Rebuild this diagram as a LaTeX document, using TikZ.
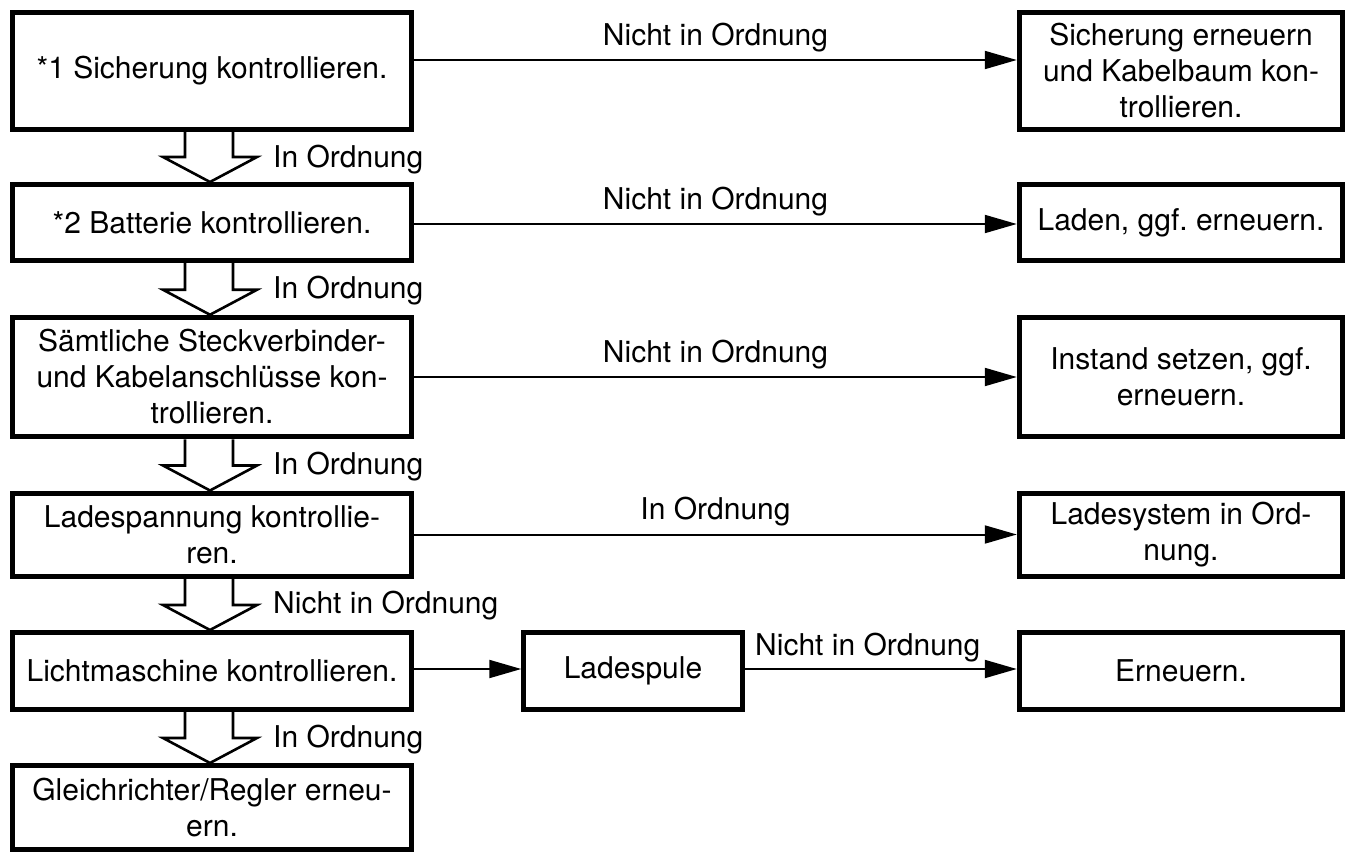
\documentclass[tikz,border=0pt]{standalone}
\usepackage{fontspec}
\setmainfont{TeX Gyre Heros}
\usetikzlibrary{arrows.meta}
\frenchspacing
\tikzset{
  box/.style={draw, line width=5pt, inner sep=0pt, align=center, font=\fontsize{30}{36}\selectfont},
  conn/.style={line width=2pt, -{Triangle[length=32pt,width=18pt]}},
  hollow/.style={line width=2.6pt, line join=miter},
  lbl/.style={font=\fontsize{30}{36}\selectfont, inner sep=0pt},
}
\newcommand\hollowarrow[3]{%
  \draw[hollow] ([xshift=-27pt]#1.south) -- ([xshift=-27pt,yshift=25pt]#2.north)
    -- ([xshift=-49pt,yshift=25pt]#2.north) -- ([xshift=-2pt]#2.north)
    -- ([xshift=45pt,yshift=25pt]#2.north) -- ([xshift=21pt,yshift=25pt]#2.north)
    -- ([xshift=21pt]#1.south);
  \node[lbl, anchor=base west] at ([xshift=61pt,yshift=-35pt]#1.south) {#3};}
\begin{document}
\begin{tikzpicture}[x=1pt,y=-1pt]
\useasboundingbox (0,0) rectangle (1350,854);
% left column
\node[box, minimum width=399.5pt, minimum height=117pt] (b1) at (212,71) {*1 Sicherung kontrollieren.};
\node[box, minimum width=399.5pt, minimum height=76pt] (b2) at (212,222.5) {*2 Batterie kontrollieren.};
\node[box, minimum width=399.5pt, minimum height=119.5pt] (b3) at (212,377) {Sämtliche Steckverbinder-\\und Kabelanschlüsse kon-\\trollieren.};
\node[box, minimum width=399.5pt, minimum height=83pt] (b4) at (212,534.5) {Ladespannung kontrollie-\\ren.};
\node[box, minimum width=399.5pt, minimum height=77pt] (b5) at (212,671) {Lichtmaschine kontrollieren.};
\node[box, minimum width=399.5pt, minimum height=84pt] (b6) at (212,807.5) {Gleichrichter/Regler erneu-\\ern.};
% right column
\node[box, minimum width=323.5pt, minimum height=117pt] (r1) at (1181,71) {Sicherung erneuern\\und Kabelbaum kon-\\trollieren.};
\node[box, minimum width=323.5pt, minimum height=76pt] (r2) at (1181,222.5) {Laden, ggf. erneuern.};
\node[box, minimum width=323.5pt, minimum height=119.5pt] (r3) at (1181,377) {Instand setzen, ggf.\\erneuern.};
\node[box, minimum width=323.5pt, minimum height=83pt] (r4) at (1181,534.5) {Ladesystem in Ord-\\nung.};
\node[box, minimum width=323.5pt, minimum height=77pt] (r5) at (1181,671) {Erneuern.};
\node[box, minimum width=218.5pt, minimum height=77pt] (lad) at (633,671) {Ladespule};
% horizontal connectors
\draw[conn] ([yshift=11pt]b1.east) -- node[lbl, anchor=base, yshift=15pt]{Nicht in Ordnung} ([yshift=11pt]r1.west);
\draw[conn] ([yshift=-1.5pt]b2.east) -- node[lbl, anchor=base, yshift=15pt]{Nicht in Ordnung} ([yshift=-1.5pt]r2.west);
\draw[conn] (b3.east) -- node[lbl, anchor=base, yshift=15pt]{Nicht in Ordnung} (r3.west);
\draw[conn] (b4.east) -- node[lbl, anchor=base, yshift=15pt]{In Ordnung} (r4.west);
\draw[conn] ([yshift=2pt]b5.east) -- ([yshift=2pt]lad.west);
\draw[conn] ([yshift=2pt]lad.east) -- node[lbl, anchor=base, yshift=14pt, xshift=-13pt]{Nicht in Ordnung} ([yshift=2pt]r5.west);
% hollow arrows
\hollowarrow{b1}{b2}{In Ordnung}
\hollowarrow{b2}{b3}{In Ordnung}
\hollowarrow{b3}{b4}{In Ordnung}
\hollowarrow{b4}{b5}{Nicht in Ordnung}
\hollowarrow{b5}{b6}{In Ordnung}
\end{tikzpicture}
\end{document}
